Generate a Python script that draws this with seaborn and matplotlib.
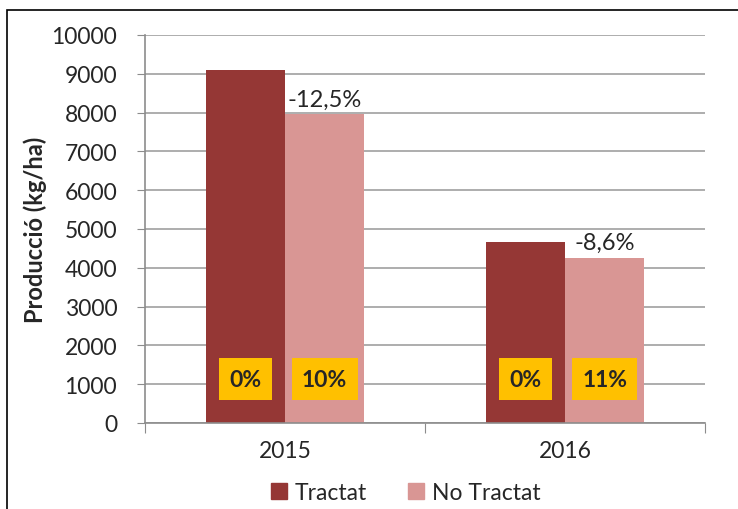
import matplotlib
matplotlib.use("Agg")
import matplotlib.pyplot as plt
import matplotlib.patches as mpatches
import numpy as np
import pandas as pd
import seaborn as sns

years = ["2015", "2016"]
groups = ["Tractat", "No Tractat"]
tractat = [9100, 4660]
no_tractat = [7960, 4260]
change_labels = ["-12,5%", "-8,6%"]
tractat_tags = ["0%", "0%"]
no_tractat_tags = ["10%", "11%"]
colors = ["#953735", "#D99694"]

df = pd.DataFrame({
    "year": years * 2,
    "group": [groups[0]] * 2 + [groups[1]] * 2,
    "value": tractat + no_tractat,
})

sns.set_style("white")
plt.rcParams["font.family"] = ["Lato", "DejaVu Sans"]

fig = plt.figure(figsize=(7.38, 5.10), dpi=100)
ax = fig.add_axes([145 / 738, 86 / 510, 560 / 738, 388 / 510])

sns.barplot(data=df, x="year", y="value", hue="group", palette=colors,
            width=0.566, gap=0, saturation=1, linewidth=0, ax=ax, legend=False)

ax.set_ylim(0, 10000)
ax.set_xlim(-0.5, 1.5)
ax.set_yticks(np.arange(0, 10001, 1000))
ax.yaxis.grid(True, color="#a0a0a0", linewidth=1.2)
ax.set_axisbelow(True)
for s in ["top", "right"]:
    ax.spines[s].set_visible(False)
for s in ["left", "bottom"]:
    ax.spines[s].set_color("#8c8c8c")
    ax.spines[s].set_linewidth(1.2)
ax.set_xticks([-0.5, 0.5, 1.5])
ax.set_xticklabels([])
ax.tick_params(axis="x", length=7, color="#8c8c8c", direction="out", bottom=True)
ax.tick_params(axis="y", length=6, color="#8c8c8c", direction="out", left=True,
               labelsize=16.5, pad=14)
for i, y in enumerate(years):
    ax.text(i, -700, y, ha="center", va="center", fontsize=16.5)
ax.set_xlabel("")
ax.set_ylabel("Producció (kg/ha)", fontsize=17, fontweight="bold", labelpad=3)

# bar positions from the containers
tr_bars = ax.containers[0]
nt_bars = ax.containers[1]
for i in range(2):
    b = nt_bars[i]
    cx = b.get_x() + b.get_width() / 2
    ax.text(cx, b.get_height() + 120, change_labels[i], ha="center", va="bottom", fontsize=17)
    for bars, tags in [(tr_bars, tractat_tags), (nt_bars, no_tractat_tags)]:
        bb = bars[i]
        ax.text(bb.get_x() + bb.get_width() / 2, 1130, tags[i], ha="center", va="center",
                fontsize=16.5, fontweight="bold",
                bbox=dict(boxstyle="square,pad=0.45", fc="#FFC000", ec="none"))

handles = [mpatches.Patch(color=c, label=g) for c, g in zip(colors, groups)]
fig.legend(handles=handles, loc="center", bbox_to_anchor=(0.55, 0.033), ncol=2,
           frameon=False, fontsize=16.5, handlelength=0.7, handleheight=0.7,
           columnspacing=1.8, handletextpad=0.35)

# outer chart frame
fig.patches.append(mpatches.Rectangle((7 / 738, -0.1), 1.0, (510 - 11) / 510 + 0.1,
                                      transform=fig.transFigure, fill=False,
                                      ec="black", lw=1.2))

fig.savefig("out.png", dpi=100)
